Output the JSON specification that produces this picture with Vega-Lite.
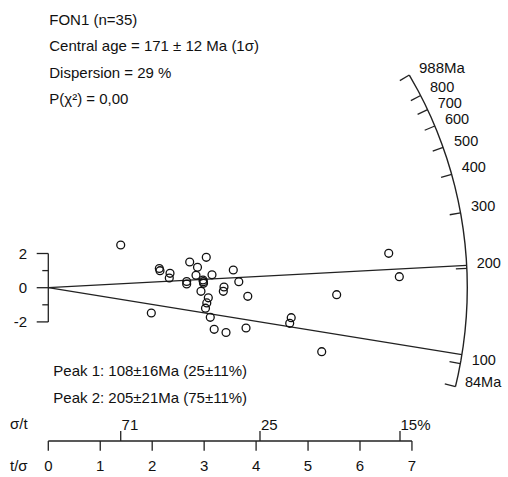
{
  "$schema": "https://vega.github.io/schema/vega-lite/v6.json",
  "width": 508,
  "height": 477,
  "autosize": "none",
  "padding": 0,
  "background": "white",
  "config": {"view": {"stroke": null}},
  "datasets": {
    "pts": [
      {"u": 1.394, "v": 2.497}, {"u": 2.137, "v": 1.123}, {"u": 2.150, "v": 0.994}, {"u": 2.343, "v": 0.842},
      {"u": 2.329, "v": 0.567}, {"u": 1.983, "v": -1.480}, {"u": 2.722, "v": 1.503}, {"u": 2.872, "v": 1.193},
      {"u": 3.041, "v": 1.778}, {"u": 2.843, "v": 0.725}, {"u": 2.664, "v": 0.363}, {"u": 2.664, "v": 0.216},
      {"u": 2.978, "v": 0.450}, {"u": 2.988, "v": 0.257}, {"u": 2.984, "v": 0.351}, {"u": 2.939, "v": -0.211},
      {"u": 3.151, "v": 0.754}, {"u": 3.080, "v": -0.591}, {"u": 3.051, "v": -0.889}, {"u": 3.026, "v": -1.199},
      {"u": 3.118, "v": -1.731}, {"u": 3.193, "v": -2.433}, {"u": 3.421, "v": -2.620}, {"u": 3.561, "v": 1.035},
      {"u": 3.667, "v": 0.351}, {"u": 3.382, "v": 0.041}, {"u": 3.369, "v": -0.211}, {"u": 3.840, "v": -0.503},
      {"u": 3.806, "v": -2.357}, {"u": 6.553, "v": 2.012}, {"u": 6.757, "v": 0.643}, {"u": 5.551, "v": -0.409},
      {"u": 4.676, "v": -1.754}, {"u": 4.647, "v": -2.082}, {"u": 5.263, "v": -3.743}
    ],
    "arc": [
      {"i": 0, "u": 7.8376, "v": -5.7825}, {"i": 1, "u": 7.8892, "v": -5.0945}, {"i": 2, "u": 7.9429, "v": -4.2549},
      {"i": 3, "u": 7.9869, "v": -3.4102}, {"i": 4, "u": 8.0212, "v": -2.5613}, {"i": 5, "u": 8.0457, "v": -1.7093},
      {"i": 6, "u": 8.0605, "v": -0.8552}, {"i": 7, "u": 8.0654, "v": 0}, {"i": 8, "u": 8.0605, "v": 0.8552},
      {"i": 9, "u": 8.0457, "v": 1.7093}, {"i": 10, "u": 8.0212, "v": 2.5613}, {"i": 11, "u": 7.9869, "v": 3.4102},
      {"i": 12, "u": 7.9429, "v": 4.2549}, {"i": 13, "u": 7.8892, "v": 5.0945}, {"i": 14, "u": 7.8259, "v": 5.9278},
      {"i": 15, "u": 7.7530, "v": 6.7540}, {"i": 16, "u": 7.6707, "v": 7.5719}, {"i": 17, "u": 7.5790, "v": 8.3805},
      {"i": 18, "u": 7.4781, "v": 9.1790}, {"i": 19, "u": 7.3681, "v": 9.9664}, {"i": 20, "u": 7.2491, "v": 10.7414},
      {"i": 21, "u": 7.1213, "v": 11.5035}, {"i": 22, "u": 6.9494, "v": 12.4363}
    ],
    "segs": [
      {"x1": 6.9494, "y1": 12.4363, "x2": 6.7670, "y2": 12.1099},
      {"x1": 7.1671, "y1": 11.2383, "x2": 6.9790, "y2": 10.9434},
      {"x1": 7.3008, "y1": 10.4135, "x2": 7.1092, "y2": 10.1403},
      {"x1": 7.4407, "y1": 9.4559, "x2": 7.2453, "y2": 9.2078},
      {"x1": 7.5994, "y1": 8.2075, "x2": 7.4000, "y2": 7.9921},
      {"x1": 7.7645, "y1": 6.6305, "x2": 7.5607, "y2": 6.4565},
      {"x1": 7.9354, "y1": 4.3812, "x2": 7.7271, "y2": 4.2662},
      {"x1": 8.0568, "y1": 1.1328, "x2": 7.8453, "y2": 1.1030},
      {"x1": 7.9316, "y1": -4.4444, "x2": 7.7234, "y2": -4.3277},
      {"x1": 7.8376, "y1": -5.7825, "x2": 7.6318, "y2": -5.6307},
      {"x1": 0, "y1": 0, "x2": 8.0540, "y2": 1.3038},
      {"x1": 0, "y1": 0, "x2": 7.9617, "y2": -3.9175},
      {"x1": 0, "y1": -2, "x2": 0, "y2": 2},
      {"x1": -0.223, "y1": 2, "x2": 0, "y2": 2},
      {"x1": -0.223, "y1": 0, "x2": 0, "y2": 0},
      {"x1": -0.223, "y1": -2, "x2": 0, "y2": -2},
      {"x1": -0.1155, "y1": 1, "x2": 0, "y2": 1},
      {"x1": -0.1155, "y1": -1, "x2": 0, "y2": -1},
      {"x1": 0, "y1": -8.965, "x2": 7, "y2": -8.965},
      {"x1": 0, "y1": -8.965, "x2": 0, "y2": -9.532},
      {"x1": 1, "y1": -8.965, "x2": 1, "y2": -9.532},
      {"x1": 2, "y1": -8.965, "x2": 2, "y2": -9.532},
      {"x1": 3, "y1": -8.965, "x2": 3, "y2": -9.532},
      {"x1": 4, "y1": -8.965, "x2": 4, "y2": -9.532},
      {"x1": 5, "y1": -8.965, "x2": 5, "y2": -9.532},
      {"x1": 6, "y1": -8.965, "x2": 6, "y2": -9.532},
      {"x1": 7, "y1": -8.965, "x2": 7, "y2": -9.532},
      {"x1": 1.394, "y1": -8.965, "x2": 1.394, "y2": -8.380},
      {"x1": 4.075, "y1": -8.965, "x2": 4.075, "y2": -8.380},
      {"x1": 6.770, "y1": -8.965, "x2": 6.770, "y2": -8.380}
    ],
    "txtL": [
      {"u": 0.019, "v": 15.655, "label": "FON1 (n=35)"},
      {"u": 0.019, "v": 14.135, "label": "Central age = 171 ± 12 Ma (1σ)"},
      {"u": 0.019, "v": 12.556, "label": "Dispersion = 29 %"},
      {"u": 0.019, "v": 11.035, "label": "P(χ²) = 0,00"},
      {"u": 0.096, "v": -4.871, "label": "Peak 1: 108±16Ma (25±11%)"},
      {"u": 0.096, "v": -6.450, "label": "Peak 2: 205±21Ma (75±11%)"},
      {"u": -0.737, "v": -7.971, "label": "σ/t"},
      {"u": -0.737, "v": -10.427, "label": "t/σ"},
      {"u": 1.41, "v": -8.03, "label": "71"},
      {"u": 4.094, "v": -8.03, "label": "25"},
      {"u": 6.780, "v": -8.03, "label": "15%"},
      {"u": 7.136, "v": 12.830, "label": "988Ma"}
    ],
    "txtArc": [
      {"u": 7.348, "v": 11.66, "label": "800"},
      {"u": 7.496, "v": 10.74, "label": "700"},
      {"u": 7.636, "v": 9.807, "label": "600"},
      {"u": 7.810, "v": 8.538, "label": "500"},
      {"u": 7.958, "v": 6.982, "label": "400"},
      {"u": 8.137, "v": 4.737, "label": "300"},
      {"u": 8.246, "v": 1.386, "label": "200"},
      {"u": 8.150, "v": -4.269, "label": "100"},
      {"u": 8.021, "v": -5.591, "label": "84Ma"}
    ],
    "txtC": [
      {"u": 0, "v": -10.427, "label": "0"}, {"u": 1, "v": -10.427, "label": "1"},
      {"u": 2, "v": -10.427, "label": "2"}, {"u": 3, "v": -10.427, "label": "3"},
      {"u": 4, "v": -10.427, "label": "4"}, {"u": 5, "v": -10.427, "label": "5"},
      {"u": 6, "v": -10.427, "label": "6"}, {"u": 7, "v": -10.427, "label": "7"}
    ],
    "txtR": [
      {"u": -0.41, "v": 2, "label": "2"},
      {"u": -0.41, "v": 0, "label": "0"},
      {"u": -0.41, "v": -2, "label": "-2"}
    ]
  },
  "layer": [
    {
      "data": {"name": "segs"},
      "mark": {"type": "rule", "color": "#222222", "strokeWidth": 1.3},
      "encoding": {
        "x": {"field": "x1", "type": "quantitative", "scale": {"domain": [-0.9297, 8.849], "nice": false, "zero": false}, "axis": null},
        "y": {"field": "y1", "type": "quantitative", "scale": {"domain": [-11.07, 16.825], "nice": false, "zero": false}, "axis": null},
        "x2": {"field": "x2"},
        "y2": {"field": "y2"}
      }
    },
    {
      "data": {"name": "arc"},
      "mark": {"type": "line", "color": "#222222", "strokeWidth": 1.4},
      "encoding": {
        "x": {"field": "u", "type": "quantitative"},
        "y": {"field": "v", "type": "quantitative"},
        "order": {"field": "i", "type": "quantitative"}
      }
    },
    {
      "data": {"name": "pts"},
      "mark": {"type": "point", "shape": "circle", "filled": false, "color": "#111111", "strokeWidth": 1.3, "size": 62, "opacity": 1},
      "encoding": {
        "x": {"field": "u", "type": "quantitative"},
        "y": {"field": "v", "type": "quantitative"}
      }
    },
    {
      "data": {"name": "txtL"},
      "mark": {"type": "text", "align": "left", "baseline": "middle", "font": "Liberation Sans", "fontSize": 15, "color": "#111111"},
      "encoding": {
        "x": {"field": "u", "type": "quantitative"},
        "y": {"field": "v", "type": "quantitative"},
        "text": {"field": "label"}
      }
    },
    {
      "data": {"name": "txtArc"},
      "mark": {"type": "text", "align": "left", "baseline": "middle", "font": "Liberation Sans", "fontSize": 14.5, "color": "#111111"},
      "encoding": {
        "x": {"field": "u", "type": "quantitative"},
        "y": {"field": "v", "type": "quantitative"},
        "text": {"field": "label"}
      }
    },
    {
      "data": {"name": "txtC"},
      "mark": {"type": "text", "align": "center", "baseline": "middle", "font": "Liberation Sans", "fontSize": 15, "color": "#111111"},
      "encoding": {
        "x": {"field": "u", "type": "quantitative"},
        "y": {"field": "v", "type": "quantitative"},
        "text": {"field": "label"}
      }
    },
    {
      "data": {"name": "txtR"},
      "mark": {"type": "text", "align": "right", "baseline": "middle", "font": "Liberation Sans", "fontSize": 15, "color": "#111111"},
      "encoding": {
        "x": {"field": "u", "type": "quantitative"},
        "y": {"field": "v", "type": "quantitative"},
        "text": {"field": "label"}
      }
    }
  ]
}
